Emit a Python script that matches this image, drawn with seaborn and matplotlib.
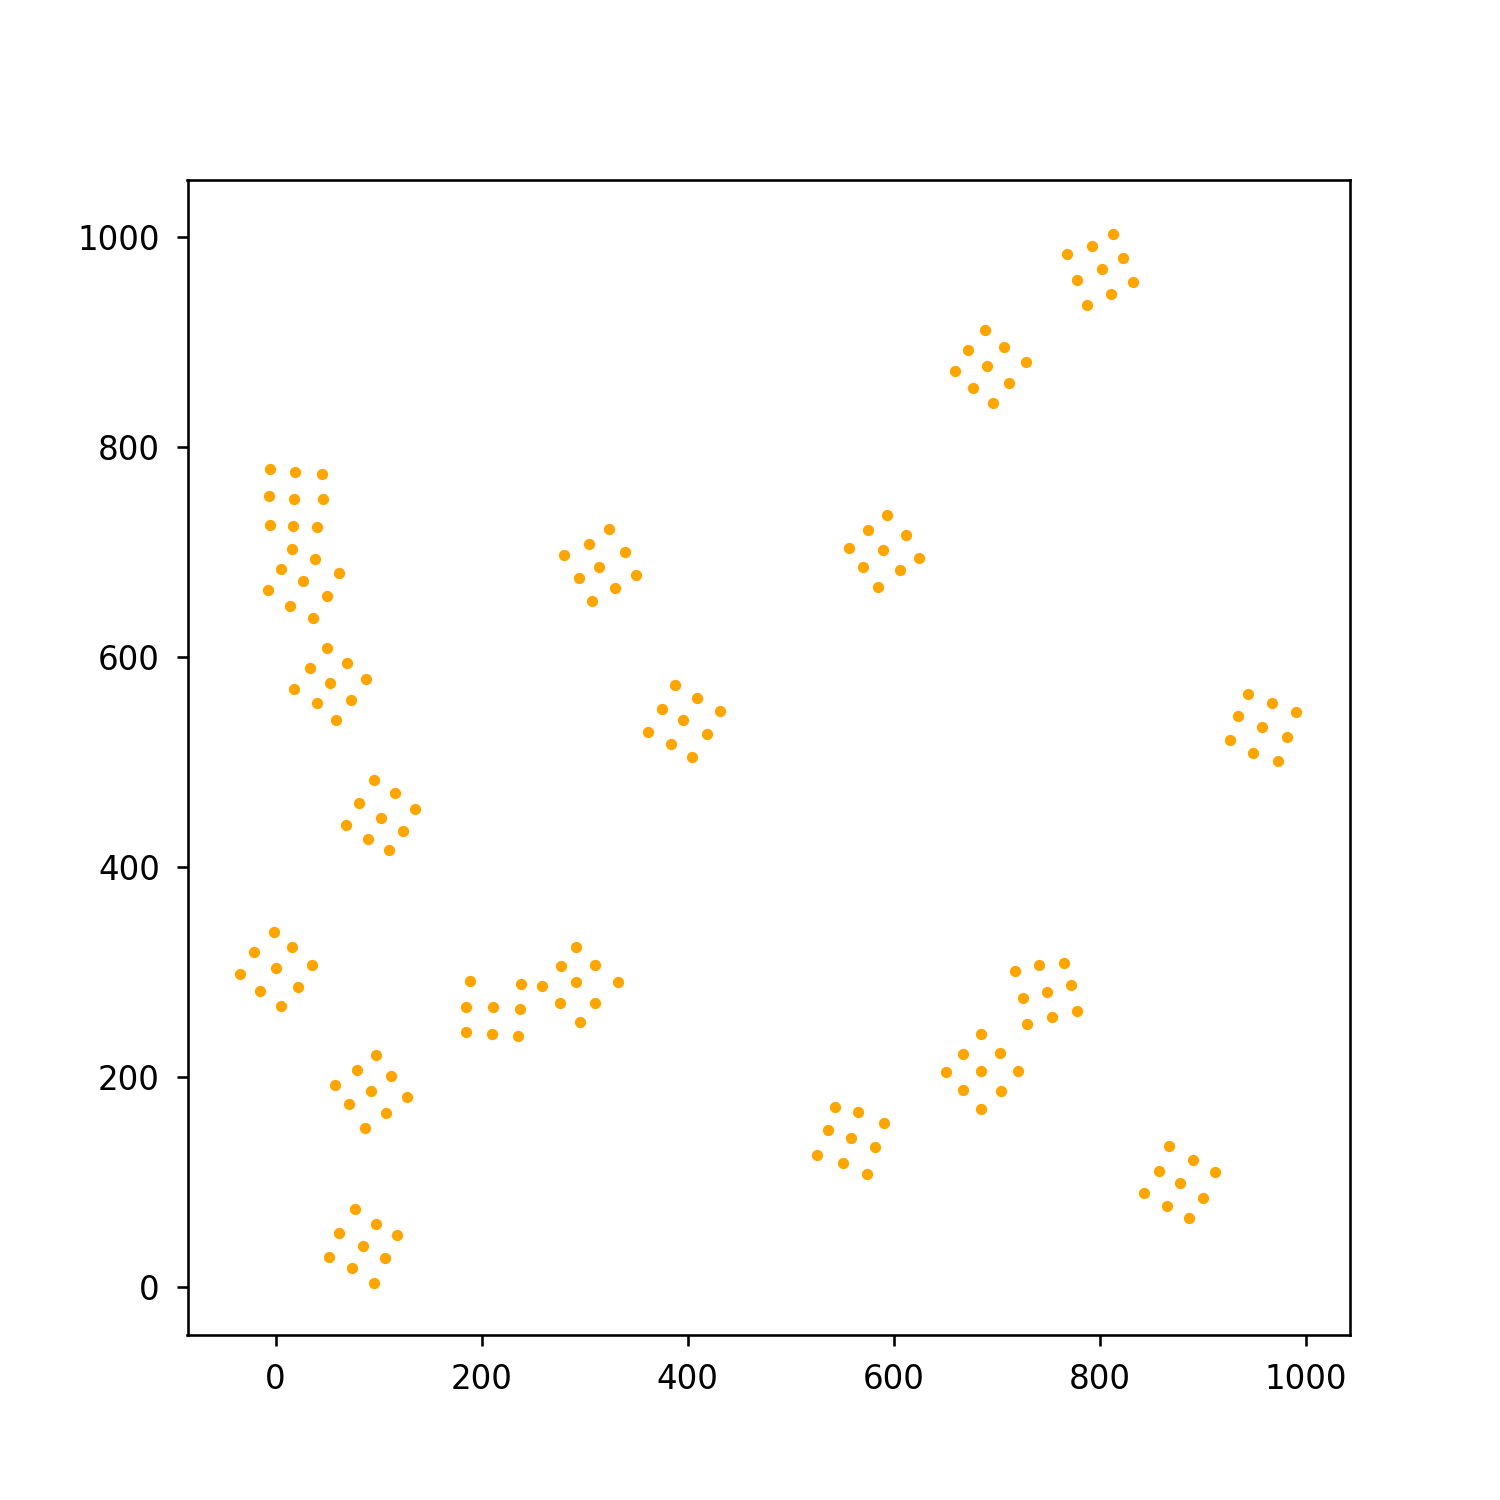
import pandas as pd
import numpy as np
import seaborn as sns
import matplotlib
matplotlib.use("Agg")
import matplotlib.pyplot as plt

# Blob positions, one list pair per cluster
a1_x = [-5.8, 19.1, 45.0, -6.5, 17.5, 45.9, -5.8, 16.8, 40.5]
a1_y = [778.6, 776.3, 773.8, 753.1, 750.9, 750.0, 726.1, 725.2, 723.8]
a2_x = [15.8, 38.8, 62.1, 5.5, 26.9, 49.8, -7.5, 13.9, 36.2]
a2_y = [703.2, 693.3, 680.3, 684.2, 672.7, 657.8, 663.5, 648.3, 637.1]
a3_x = [49.8, 69.2, 88.1, 33.7, 52.7, 73.5, 17.5, 39.8, 58.5]
a3_y = [608.9, 594.6, 578.7, 589.6, 575.5, 558.6, 569.8, 556.4, 539.6]
a4_x = [95.1, 115.5, 135.0, 80.6, 102.6, 123.6, 68.6, 90.0, 110.0]
a4_y = [482.4, 470.3, 455.4, 460.8, 446.5, 434.7, 439.5, 426.8, 416.3]
b1_x = [-1.9, 16.2, 35.2, -21.1, 0.0, 21.7, -34.0, -14.9, 5.5]
b1_y = [338.4, 323.5, 306.7, 318.7, 303.8, 286.0, 298.1, 281.5, 267.9]
b2_x = [97.8, 112.3, 127.5, 78.6, 92.9, 107.1, 57.3, 71.2, 87.1]
b2_y = [221.2, 201.1, 180.5, 206.6, 186.8, 165.5, 192.6, 174.2, 151.3]
b3_x = [76.7, 97.8, 118.2, 61.2, 84.8, 105.8, 51.5, 74.1, 95.1]
b3_y = [74.1, 59.7, 49.3, 51.8, 39.1, 27.4, 28.9, 17.8, 4.1]
c1_x = [188.3, 238.5, 185.1, 211.0, 236.9, 185.1, 210.4, 235.2]
c1_y = [291.7, 288.6, 266.9, 266.3, 264.7, 242.4, 240.9, 238.6]
c2_x = [291.3, 277.4, 310.4, 258.5, 291.9, 332.3, 275.7, 309.7, 295.1]
c2_y = [324.1, 306.0, 307.0, 286.3, 290.1, 290.1, 270.1, 270.4, 252.0]
d1_x = [323.6, 304.2, 338.8, 279.9, 313.6, 350.2, 294.2, 329.8, 307.1]
d1_y = [721.6, 708.0, 700.0, 696.9, 685.7, 678.4, 675.2, 665.7, 653.0]
d2_x = [388.1, 409.4, 431.1, 375.4, 395.4, 418.7, 361.5, 384.2, 404.6]
d2_y = [572.9, 561.2, 548.1, 550.7, 539.6, 526.2, 528.4, 516.7, 504.6]
e1_x = [542.7, 565.3, 590.6, 536.2, 558.9, 581.6, 525.5, 550.8, 574.1]
e1_y = [170.9, 166.5, 156.0, 149.4, 141.4, 133.5, 125.6, 117.6, 107.5]
e2_x = [685.1, 667.3, 702.9, 650.2, 684.5, 720.7, 666.7, 703.6, 685.1]
e2_y = [240.9, 221.8, 222.8, 204.3, 205.9, 205.2, 187.5, 186.8, 169.4]
e3_x = [717.5, 740.8, 765.3, 725.0, 748.8, 771.8, 728.8, 753.7, 777.9]
e3_y = [301.2, 306.9, 308.5, 274.8, 281.2, 287.9, 250.4, 256.7, 262.5]
f1_x = [593.5, 574.5, 611.4, 556.6, 589.6, 624.6, 570.2, 605.8, 584.8]
f1_y = [735.0, 720.7, 716.2, 704.2, 701.6, 694.7, 685.7, 682.6, 666.7]
g1_x = [688.3, 672.1, 707.1, 659.2, 690.0, 727.9, 677.0, 712.0, 696.4]
g1_y = [911.3, 892.3, 895.4, 872.5, 877.0, 881.1, 855.8, 860.6, 841.5]
g2_x = [812.9, 792.2, 822.0, 767.7, 801.7, 832.3, 777.4, 810.4, 787.1]
g2_y = [1002.9, 991.4, 979.7, 983.8, 969.2, 956.8, 959.0, 945.4, 935.2]
h1_x = [867.3, 890.0, 911.7, 857.6, 877.7, 900.3, 843.0, 865.3, 886.4]
h1_y = [134.4, 120.8, 109.0, 110.6, 99.4, 85.1, 89.5, 77.1, 65.3]
h2_x = [943.4, 967.3, 990.3, 934.3, 957.0, 981.8, 926.2, 948.8, 972.5]
h2_y = [565.0, 556.4, 547.5, 543.6, 533.1, 523.6, 520.5, 508.8, 500.5]

xs = [a1_x, a2_x, a3_x, a4_x, b1_x, b2_x, b3_x, c1_x, c2_x, d1_x, d2_x,
      e1_x, e2_x, e3_x, f1_x, g1_x, g2_x, h1_x, h2_x]
ys = [a1_y, a2_y, a3_y, a4_y, b1_y, b2_y, b3_y, c1_y, c2_y, d1_y, d2_y,
      e1_y, e2_y, e3_y, f1_y, g1_y, g2_y, h1_y, h2_y]

df = pd.DataFrame({'x': np.concatenate(xs), 'y': np.concatenate(ys)})

# 6.4in square at ~234 dpi gives 1500 px with default-sized text
fig, ax = plt.subplots(figsize=(6.4, 6.4))
sns.scatterplot(data=df, x='x', y='y', color='orange', s=12, linewidth=0, ax=ax)

ax.set_xlim(-85.4, 1042.7)
ax.set_ylim(-45.8, 1054.3)
ax.set_xlabel('')
ax.set_ylabel('')
ax.tick_params(pad=5)

plt.savefig('out.png', dpi=1500 / 6.4)
